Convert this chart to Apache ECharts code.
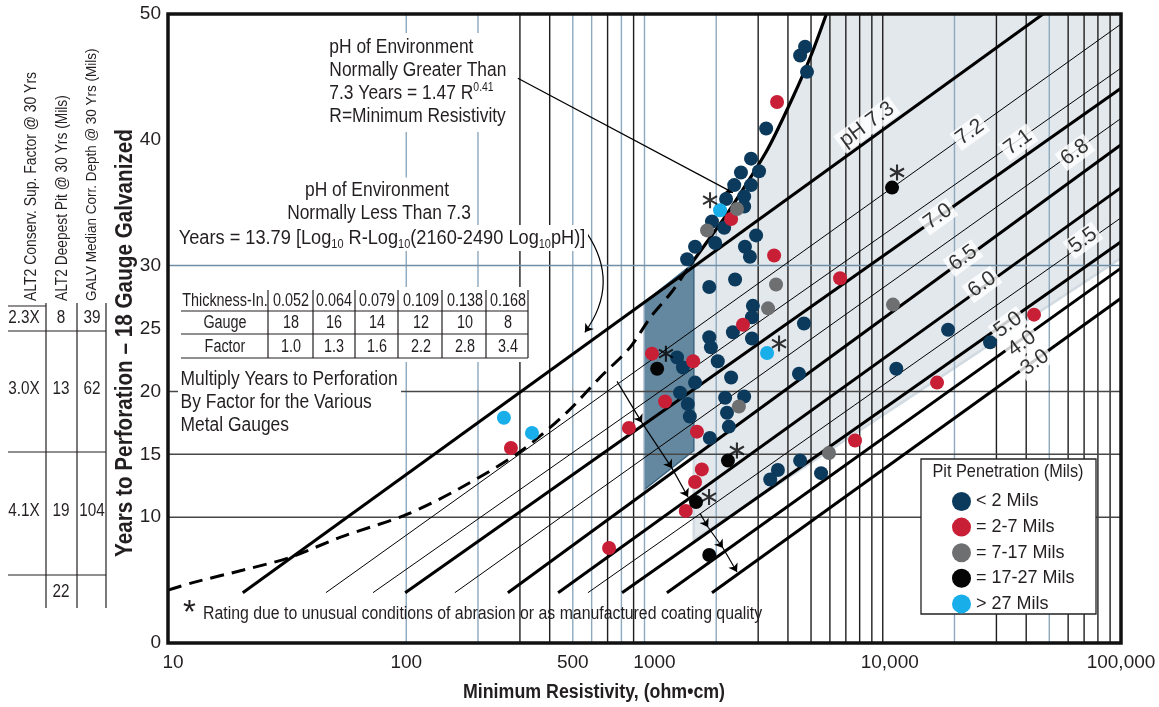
<!DOCTYPE html>
<html>
<head>
<meta charset="utf-8">
<script src="https://cdn.jsdelivr.net/npm/echarts@6/dist/echarts.min.js"></script>
<style>html,body{margin:0;padding:0;background:#fff}#main{width:1159px;height:707px}</style>
</head>
<body>
<div id="main"></div>
<script>
var FONT = "'Liberation Sans', Arial, sans-serif";
var INK = '#231f20';

// axis ticks
var xTicks = [10, 100, 500, 1000, 10000, 100000];
var xTickText = ['10', '100', '500', '1000', '10,000', '100,000'];
var yTicks = [0, 10, 15, 20, 25, 30, 40, 50];

// rulings (resistivity for verticals, years for horizontals)
var ruleBlueR = [100, 200, 500, 600, 800, 1000, 2000, 20000, 50000];
var ruleBlackR = [300, 400, 700, 900, 3000, 4000, 5000, 6000, 7000, 8000, 9000, 10000, 30000, 40000, 60000, 70000, 80000, 90000];
var ruleBlueY = [30];
var ruleGrayY = [10, 15, 20];

// pH lines: start and end points
var phNames = ['7.3', '7.2', '7.1', '7.0', '6.8', '6.5', '6.0', '5.5', '5.0', '4.0', '3.0'];
var phThick = [1, 0, 0, 1, 0, 1, 1, 0, 1, 1, 1];
var phStartR = [20.6, 46, 72.5, 99, 160, 267, 434, 579, 805, 1242, 1920];
var phStartY = [4, 4, 4, 4, 4, 4, 4, 4, 4, 4, 4];
var phEndR = [47100, 100000, 100000, 100000, 100000, 100000, 100000, 100000, 100000, 100000, 100000];
var phEndY = [50, 49.2, 45.7, 44.1, 41.7, 39.6, 36.2, 33.8, 31.9, 29.8, 27.4];

// pH line labels
var phLabelText = ['pH 7.3', '7.2', '7.1', '7.0', '6.8', '6.5', '6.0', '5.5', '5.0', '4.0', '3.0'];
var phLabelR = [8590, 23230, 36980, 17060, 64120, 21730, 26120, 69300, 33570, 38390, 43550];
var phLabelY = [41.2, 40.6, 39.8, 33.9, 39.0, 30.6, 28.5, 32.0, 25.3, 23.8, 22.3];

// pH > 7.3 curve (dashed part and solid part)
var curveDashR = [10, 12.7, 20.7, 32.5, 52.7, 100, 168, 300, 470, 650, 870, 1060, 1300, 1550];
var curveDashY = [4.2, 4.8, 5.8, 6.8, 8.4, 10.2, 12.3, 15.2, 18.3, 21.1, 23.5, 25.9, 27.9, 30.0];
var curveR = [1550, 1800, 2200, 2700, 3300, 4200, 5000, 5800];
var curveY = [30.0, 31.7, 34.0, 36.6, 39.3, 43.4, 46.7, 50];

// shaded zones
var lightR = [1610, 1610, 1800, 2200, 2700, 3300, 4200, 5000, 5800, 100000, 100000];
var lightY = [8.2, 30.3, 31.7, 34.0, 36.6, 39.3, 43.4, 46.7, 50, 50, 30.6];
var darkR = [1000, 1610, 1610, 1000];
var darkY = [27.1, 30.2, 15.3, 12.2];

// pit penetration observations
var lt2R = [4720, 4500, 4810, 3240, 2800, 3025, 2540, 2380, 2800, 2620, 2200, 2620, 1920, 2160, 2940, 1630, 1980, 2640, 2770, 1510, 1870, 2400, 2850, 2825, 4670, 2350, 2825, 1870, 1900, 2030, 1370, 1450, 1630, 2310, 4450, 1410, 1520, 1550, 2180, 2620, 2220, 2260, 1880, 4500, 3630, 3370, 5510, 18800, 28200, 11400];
var lt2Y = [47.4, 46.7, 45.4, 40.9, 38.5, 37.5, 37.4, 36.4, 36.4, 35.5, 35.3, 34.7, 33.5, 33.0, 32.4, 31.5, 31.8, 31.5, 30.7, 30.5, 28.3, 28.9, 26.8, 25.9, 25.4, 24.7, 24.2, 24.3, 23.5, 22.4, 22.7, 21.9, 20.7, 21.1, 21.4, 19.9, 19.0, 18.0, 19.5, 19.6, 18.3, 17.2, 16.3, 14.5, 13.75, 13.0, 13.5, 24.9, 23.9, 21.8];
var p2to7R = [3600, 2310, 3500, 6620, 2590, 1075, 1600, 1220, 860, 1660, 7650, 1740, 1630, 1490, 710, 43150, 16900, 275];
var p2to7Y = [43.0, 33.7, 30.8, 29.0, 25.3, 23.0, 22.4, 19.2, 17.1, 16.8, 16.1, 13.8, 12.8, 10.5, 7.55, 26.1, 20.7, 15.5];
var p7to17R = [2445, 1830, 3565, 3300, 2490, 5950, 11040];
var p7to17Y = [34.5, 32.8, 28.5, 26.6, 18.8, 15.1, 26.9];
var p17to27R = [1130, 2240, 1645, 1870, 10940];
var p17to27Y = [21.8, 14.5, 11.2, 7.0, 36.2];
var gt27R = [2075, 3270, 257, 337];
var gt27Y = [34.4, 23.05, 17.9, 16.7];

// asterisks (unusual conditions)
var starR = [1884, 1230, 3670, 2443, 1866, 11480];
var starY = [35.2, 23.0, 23.8, 15.3, 11.6, 37.4];

// gauge-factor arrows and pointers
var arrowAR = [767, 977, 1304, 1523];
var arrowAY = [20.8, 17.5, 13.9, 11.6];
var arrowBR = [1710, 1849, 2135, 2445];
var arrowBY = [10.3, 9.2, 7.55, 5.64];
var pointerGtR = [294, 2350];
var pointerGtY = [44.9, 35.8];
var pointerLtR = [572, 562];
var pointerLtY = [32.6, 24.7];

var groups = [
  { name: '< 2 Mils', color: '#0b3a5c', r: lt2R, y: lt2Y },
  { name: '= 2-7 Mils', color: '#c81f37', r: p2to7R, y: p2to7Y },
  { name: '= 7-17 Mils', color: '#6e6f71', r: p7to17R, y: p7to17Y },
  { name: '= 17-27 Mils', color: '#050505', r: p17to27R, y: p17to27Y },
  { name: '> 27 Mils', color: '#18aeea', r: gt27R, y: gt27Y }
];

function zip(a, b) { return a.map(function (v, i) { return [v, b[i]]; }); }

var STAR = 'path://M-1.3,-10L1.3,-10L1.3,10L-1.3,10ZM8.01,-6.13L9.31,-3.87L-8.01,6.13L-9.31,3.87ZM-9.31,-3.87L-8.01,-6.13L9.31,3.87L8.01,6.13Z';

var series = [];

// shaded polygons
function polygonSeries(pts, fill, stroke, lw) {
  return {
    type: 'custom', z: 1, silent: true,
    data: [pts[0]],
    renderItem: function (params, api) {
      return {
        type: 'polygon',
        shape: { points: pts.map(function (p) { return api.coord(p); }) },
        style: { fill: fill, stroke: stroke, lineWidth: lw }
      };
    }
  };
}
series.push(polygonSeries(zip(lightR, lightY), '#e3e8ed', '#d2dbe2', 2.5));
series.push(polygonSeries(zip(darkR, darkY), '#63889f', '#3d6682', 1.5));

// vertical rulings
series.push({
  type: 'custom', z: 2, silent: true,
  data: ruleBlueR.map(function (r) { return [r, 1]; }).concat(ruleBlackR.map(function (r) { return [r, 0]; })),
  renderItem: function (params, api) {
    var r = api.value(0);
    var a = api.coord([r, 0]), b = api.coord([r, 50]);
    return { type: 'line', shape: { x1: a[0], y1: a[1], x2: b[0], y2: b[1] },
      style: { stroke: api.value(1) ? '#8ea8bd' : '#1e1e1e', lineWidth: 1.4 } };
  }
});
// horizontal rulings
series.push({
  type: 'custom', z: 2, silent: true,
  data: ruleBlueY.map(function (y) { return [10, y, 1]; }).concat(ruleGrayY.map(function (y) { return [10, y, 0]; })),
  renderItem: function (params, api) {
    var y = api.value(1);
    var a = api.coord([10, y]), b = api.coord([100000, y]);
    return { type: 'line', shape: { x1: a[0], y1: a[1], x2: b[0], y2: b[1] },
      style: { stroke: api.value(2) ? '#6f8ea7' : '#474747', lineWidth: 1.5 } };
  }
});

// pH lines
phNames.forEach(function (n, i) {
  series.push({
    type: 'line', name: 'pH ' + n, z: 3, silent: true, symbol: 'none',
    data: [[phStartR[i], phStartY[i]], [phEndR[i], phEndY[i]]],
    lineStyle: { color: '#000', width: phThick[i] ? 3 : 1 }
  });
});

// curve
series.push({
  type: 'line', z: 4, silent: true, symbol: 'none', smooth: 0.3,
  data: zip(curveDashR, curveDashY),
  lineStyle: { color: '#000', width: 3, type: [14, 8] }
});
series.push({
  type: 'line', z: 4, silent: true, symbol: 'none', smooth: 0.3,
  data: zip(curveR, curveY),
  lineStyle: { color: '#000', width: 3.2 }
});

// arrows
function arrowSegs(rs, ys) {
  var out = [];
  for (var i = 1; i < rs.length; i++) out.push({ coords: [[rs[i - 1], ys[i - 1]], [rs[i], ys[i]]] });
  return out;
}
series.push({
  type: 'lines', coordinateSystem: 'cartesian2d', z: 5, silent: true,
  symbol: ['none', 'arrow'], symbolSize: 8,
  lineStyle: { color: '#000', width: 1.2, opacity: 1 },
  data: arrowSegs(arrowAR, arrowAY).concat(arrowSegs(arrowBR, arrowBY))
    .concat([{ coords: zip(pointerGtR, pointerGtY) }])
});
series.push({
  type: 'lines', coordinateSystem: 'cartesian2d', z: 5, silent: true,
  symbol: ['none', 'arrow'], symbolSize: 8,
  lineStyle: { color: '#000', width: 1.2, opacity: 1, curveness: 0.35 },
  data: [{ coords: zip(pointerLtR, pointerLtY) }]
});

// observations
groups.forEach(function (g) {
  series.push({
    type: 'scatter', name: g.name, z: 6, symbolSize: 14,
    itemStyle: { color: g.color, opacity: 1 },
    data: zip(g.r, g.y)
  });
});

// asterisks
series.push({
  type: 'scatter', z: 7, silent: true, symbol: STAR, symbolSize: [15, 16],
  itemStyle: { color: '#000' },
  data: zip(starR, starY)
});

// pH labels
series.push({
  type: 'scatter', z: 8, silent: true, symbolSize: 1,
  itemStyle: { color: 'rgba(0,0,0,0)' },
  label: {
    show: true, position: 'inside', rotate: 36, formatter: '{b}',
    fontFamily: FONT, fontSize: 21, color: '#000',
    backgroundColor: '#fff', padding: [0, 3, 0, 3]
  },
  data: phLabelText.map(function (t, i) { return { name: t, value: [phLabelR[i], phLabelY[i]] }; })
});

// condensed text helper (scaleX narrows the face)
function txt(x, y, text, size, extra, sx) {
  return {
    type: 'text', x: x, y: y, z: 30, silent: true, scaleX: sx || 0.87,
    style: Object.assign({ text: text, fill: INK, fontFamily: FONT, fontSize: size, align: 'left', verticalAlign: 'middle' }, extra || {})
  };
}
function ln(x1, y1, x2, y2, w) {
  return { type: 'line', z: 31, silent: true, shape: { x1: x1, y1: y1, x2: x2, y2: y2 }, style: { stroke: INK, lineWidth: w || 1.2 } };
}

var sub = { fontSize: 12, fontFamily: FONT, fill: INK, verticalAlign: 'bottom' };
var sup = { fontSize: 12, fontFamily: FONT, fill: INK, verticalAlign: 'top' };

var yName = txt(126, 343, 'Years to Perforation – 18 Gauge Galvanized', 23, { align: 'center', fontWeight: 'bold' }, 0.9);
yName.rotation = Math.PI / 2;
var hdr1 = txt(31, 301, 'ALT2 Conserv. Sup. Factor @ 30 Yrs', 17, null, 0.82);
hdr1.rotation = Math.PI / 2;
var hdr2 = txt(62, 301, 'ALT2 Deepest Pit @ 30 Yrs (Mils)', 17, null, 0.81);
hdr2.rotation = Math.PI / 2;
var hdr3 = txt(92, 301, 'GALV Median Corr. Depth @ 30 Yrs (Mils)', 15.5, null, 0.87);
hdr3.rotation = Math.PI / 2;
var legTitle = txt(1008, 472, 'Pit Penetration (Mils)', 18.5, { align: 'center' }, 0.88);
legTitle.z = 42;

var graphic = [
  // frame
  { type: 'rect', z: 60, silent: true, shape: { x: 168, y: 14, width: 953, height: 629 }, style: { fill: 'none', stroke: '#111', lineWidth: 3.5 } },
  yName, hdr1, hdr2, hdr3,
  txt(594, 692, 'Minimum Resistivity, (ohm•cm)', 20, { align: 'center', fontWeight: 'bold' }, 0.89),
  // annotation: pH > 7.3
  txt(325, 33, 'pH of Environment\nNormally Greater Than\n7.3 Years = 1.47 R{sup|0.41}\nR=Minimum Resistivity', 20,
    { verticalAlign: 'top', lineHeight: 23, backgroundColor: '#fff', padding: [3, 5, 4, 5], rich: { sup: sup } }),
  // annotation: pH < 7.3
  txt(377, 190, 'pH of Environment', 20, { align: 'center', lineHeight: 25, backgroundColor: '#fff', padding: [0, 3] }),
  txt(379, 213, 'Normally Less Than 7.3', 20, { align: 'center', lineHeight: 25, backgroundColor: '#fff', padding: [0, 3] }),
  txt(382, 238, 'Years = 13.79 [Log{sub|10} R-Log{sub|10}(2160-2490 Log{sub|10}pH)]', 20,
    { align: 'center', lineHeight: 26, backgroundColor: '#fff', padding: [0, 3], rich: { sub: sub } }, 0.91),
  // gauge table background
  { type: 'rect', z: 29, silent: true, shape: { x: 178, y: 287, width: 354, height: 75 }, style: { fill: '#fff' } },
  // multiply note
  txt(178, 368, 'Multiply Years to Perforation\nBy Factor for the Various\nMetal Gauges', 20,
    { verticalAlign: 'top', lineHeight: 23, backgroundColor: '#fff', padding: [0, 4, 2, 3] }),
  // footnote
  txt(183, 597, '*', 33, { verticalAlign: 'top' }, 1),
  txt(203, 614, 'Rating due to unusual conditions of abrasion or as manufactured coating quality', 18, null, 0.88),
  // legend box
  { type: 'rect', z: 40, silent: true, shape: { x: 921, y: 459, width: 175, height: 155 }, style: { fill: '#fff', stroke: '#222', lineWidth: 1.3 } },
  legTitle
];

// gauge table cells
var gaugeCols = [225, 291, 334, 377, 421, 465, 508];
var gaugeRows = [
  ['Thickness-In.', '0.052', '0.064', '0.079', '0.109', '0.138', '0.168'],
  ['Gauge', '18', '16', '14', '12', '10', '8'],
  ['Factor', '1.0', '1.3', '1.6', '2.2', '2.8', '3.4']
];
var gaugeRowY = [301, 323, 347];
gaugeRows.forEach(function (row, ri) {
  row.forEach(function (c, ci) { graphic.push(txt(gaugeCols[ci], gaugeRowY[ri], c, 18, { align: 'center' }, 0.8)); });
});
[311, 334, 358].forEach(function (y) { graphic.push(ln(181, y, 528, y)); });
[268, 313, 355, 398, 442, 486, 528].forEach(function (x) { graphic.push(ln(x, 290, x, 358)); });

// left summary table
var sideCols = [24, 61, 92];
var sideRows = [['2.3X', '8', '39'], ['3.0X', '13', '62'], ['4.1X', '19', '104'], ['', '22', '']];
var sideRowY = [318, 389, 511, 592];
sideRows.forEach(function (row, ri) {
  row.forEach(function (c, ci) { graphic.push(txt(sideCols[ci], sideRowY[ri], c, 18, { align: 'center' }, 0.85)); });
});
graphic.push(ln(8, 306, 46, 306));
[331, 452, 575].forEach(function (y) { graphic.push(ln(8, y, 106, y)); });
[46, 77, 106].forEach(function (x) { graphic.push(ln(x, 303, x, 608)); });

// small rightward nudges of some x tick labels, as in the original
var xTickNudge = [10, 0, 0, 20, 14, 0];
var xRich = {};
xTickNudge.forEach(function (p, i) { xRich['t' + i] = { fontFamily: FONT, fontSize: 19, color: INK, padding: [0, 0, 0, p] }; });

var chart = echarts.init(document.getElementById('main'));
chart.setOption({
  animation: false,
  backgroundColor: '#fff',
  grid: { left: 168, right: 38, top: 14, bottom: 64 },
  xAxis: {
    type: 'log', logBase: 10, min: 10, max: 100000,
    axisLine: { show: false }, axisTick: { show: false }, splitLine: { show: false }, minorSplitLine: { show: false },
    axisLabel: {
      customValues: xTicks, margin: 10, fontFamily: FONT, fontSize: 19, color: INK, rich: xRich,
      formatter: function (v) {
        var i = xTicks.indexOf(Math.round(v));
        return i < 0 ? '' : '{t' + i + '|' + xTickText[i] + '}';
      }
    }
  },
  yAxis: {
    type: 'value', min: 0, max: 50,
    axisLine: { show: false }, axisTick: { show: false }, splitLine: { show: false },
    axisLabel: { customValues: yTicks, margin: 7, fontFamily: FONT, fontSize: 19, color: INK }
  },
  legend: {
    data: groups.map(function (g) { return g.name; }),
    orient: 'vertical', left: 947, top: 487, z: 45, selectedMode: false,
    icon: 'circle', itemWidth: 19, itemHeight: 19, itemGap: 6.6,
    textStyle: { fontFamily: FONT, fontSize: 18, color: INK, lineHeight: 19 }
  },
  graphic: graphic,
  series: series
});
</script>
</body>
</html>
